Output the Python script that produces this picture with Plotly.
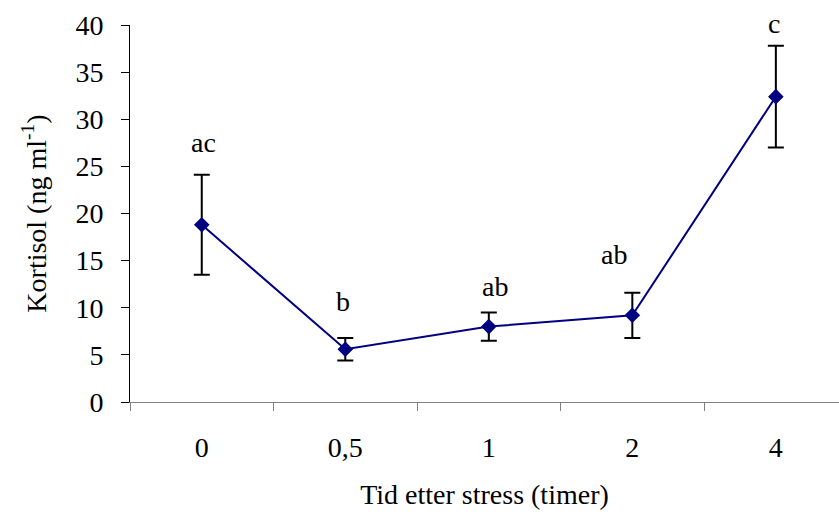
import plotly.graph_objects as go

# Cortisol after stress: mean and error per sampling time
times = ["0", "0,5", "1", "2", "4"]
kortisol = [18.8, 5.6, 8.0, 9.2, 32.4]
feil = [5.3, 1.2, 1.5, 2.4, 5.4]
bokstaver = ["ac", "b", "ab", "ab", "c"]

# per-label nudges (px) for the significance letters
label_dy = [32, 36, 26, 38, 22]
label_dx = [2, -2, 6, -18, -2]

serif = "Liberation Serif, Times New Roman, serif"
fs = 28

fig = go.Figure()
fig.add_trace(go.Scatter(
    x=times, y=kortisol,
    mode="lines+markers",
    line=dict(color="#000080", width=2),
    marker=dict(symbol="diamond", size=12, color="#000080"),
    error_y=dict(type="data", array=feil, visible=True,
                 color="black", thickness=2, width=8),
    cliponaxis=False,
    showlegend=False,
))

# letters above the error bars; x given as category index
for i, (m, e, txt, dy, dx) in enumerate(zip(kortisol, feil, bokstaver, label_dy, label_dx)):
    fig.add_annotation(x=i, y=m + e, text=txt, showarrow=False,
                       yanchor="middle", yshift=dy, xshift=dx,
                       font=dict(family=serif, size=fs, color="black"))

fig.update_layout(
    width=839, height=518,
    margin=dict(l=130, r=0, t=25, b=116),
    paper_bgcolor="white", plot_bgcolor="white",
    font=dict(family=serif, size=fs, color="black"),
    xaxis=dict(
        type="category", range=[-0.5, 4.44],
        showline=True, linecolor="#808080", linewidth=1,
        ticks="outside", tickson="boundaries", ticklen=8, tickcolor="#808080",
        ticklabelstandoff=20, showgrid=False, zeroline=False,
        title=dict(text="Tid etter stress (timer)", standoff=22,
                   font=dict(family=serif, size=fs)),
    ),
    yaxis=dict(
        range=[0, 40], dtick=5,
        showline=True, linecolor="black", linewidth=1,
        ticks="outside", ticklen=8, tickcolor="black",
        ticklabelstandoff=12, showgrid=False, zeroline=False,
        title=dict(text="Kortisol (ng ml<sup>-1</sup>)", standoff=20,
                   font=dict(family=serif, size=fs)),
    ),
)

fig.write_html("out.html")
